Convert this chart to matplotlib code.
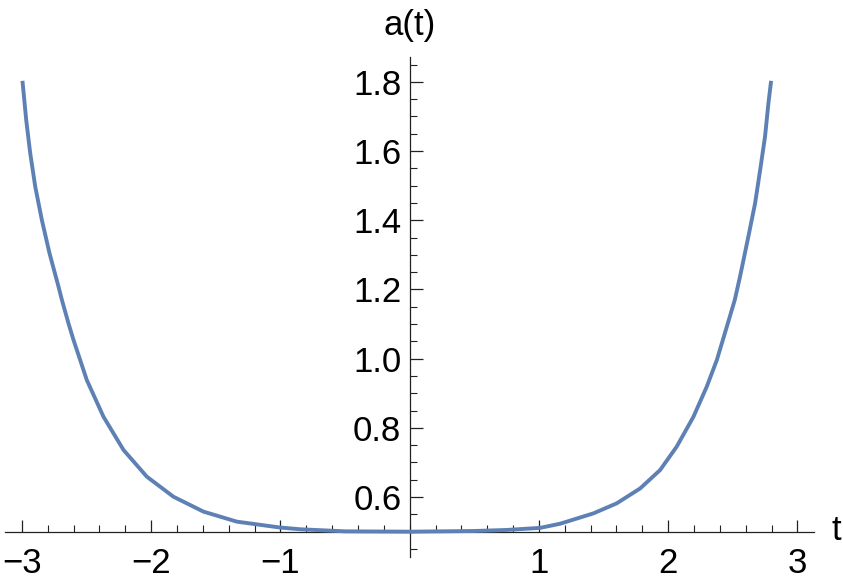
import matplotlib
matplotlib.use("Agg")
import matplotlib.pyplot as plt
from matplotlib.ticker import MultipleLocator, FixedLocator

# values
t_vals = [-2.995, -2.966, -2.935, -2.896, -2.845, -2.786, -2.716, -2.690,
          -2.639, -2.600, -2.497, -2.368, -2.213, -2.033, -1.827, -1.595,
          -1.337, -1.002, -0.847, -0.5, 0.0, 0.5, 0.75, 1.009, 1.164,
          1.422, 1.602, 1.783, 1.937, 2.066, 2.195, 2.298, 2.376, 2.453,
          2.515, 2.556, 2.620, 2.672, 2.711, 2.749, 2.775, 2.796]
a_vals = [1.803, 1.690, 1.594, 1.497, 1.401, 1.305, 1.208, 1.170,
          1.102, 1.054, 0.938, 0.832, 0.736, 0.659, 0.601, 0.558,
          0.529, 0.512, 0.507, 0.501, 0.500, 0.502, 0.505, 0.511, 0.523,
          0.553, 0.582, 0.625, 0.678, 0.746, 0.832, 0.919, 0.996, 1.092,
          1.170, 1.238, 1.353, 1.449, 1.545, 1.642, 1.738, 1.803]

x_ticks = [-3, -2, -1, 1, 2, 3]
y_ticks = [0.6, 0.8, 1.0, 1.2, 1.4, 1.6, 1.8]

plt.rcParams['font.family'] = ['Liberation Sans', 'DejaVu Sans']
fs = 25

fig = plt.figure(figsize=(8.43, 5.85), dpi=100)
ax = fig.add_axes([5 / 843, 1 - 556.7 / 585, (814.3 - 5) / 843, (556.7 - 57.3) / 585])

ax.plot(t_vals, a_vals, color='#5E81B5', lw=2.8, solid_capstyle='butt',
        solid_joinstyle='round', zorder=3)

ax.set_xlim(-3.13, 3.13)
ax.set_ylim(0.4277, 1.871)

for s in ['top', 'right']:
    ax.spines[s].set_visible(False)
ax.spines['left'].set_position(('data', 0))
ax.spines['bottom'].set_position(('data', 0.5))
for s in ['left', 'bottom']:
    ax.spines[s].set_linewidth(0.9)
    ax.spines[s].set_color('#222222')

ax.xaxis.set_major_locator(FixedLocator(x_ticks))
ax.xaxis.set_minor_locator(MultipleLocator(0.2))
ax.yaxis.set_major_locator(FixedLocator(y_ticks))
ax.yaxis.set_minor_locator(MultipleLocator(0.05))
ax.set_xticklabels([f'{v:d}'.replace('-', '\u2212') for v in x_ticks])
ax.set_yticklabels([f'{v:.1f}' for v in y_ticks])

ax.tick_params(which='major', direction='in', length=9, width=0.9, color='#222222',
               labelsize=fs)
ax.tick_params(which='minor', direction='in', length=5, width=0.8, color='#222222')
ax.tick_params(axis='x', which='major', pad=11)
ax.tick_params(axis='y', which='major', pad=6)

fig.text(409.3 / 843, 1 - 25 / 585, 'a(t)', ha='center', va='center', fontsize=fs)
fig.text(836 / 843, 1 - 531 / 585, 't', ha='center', va='center', fontsize=fs)

fig.savefig('out.png', dpi=100)
